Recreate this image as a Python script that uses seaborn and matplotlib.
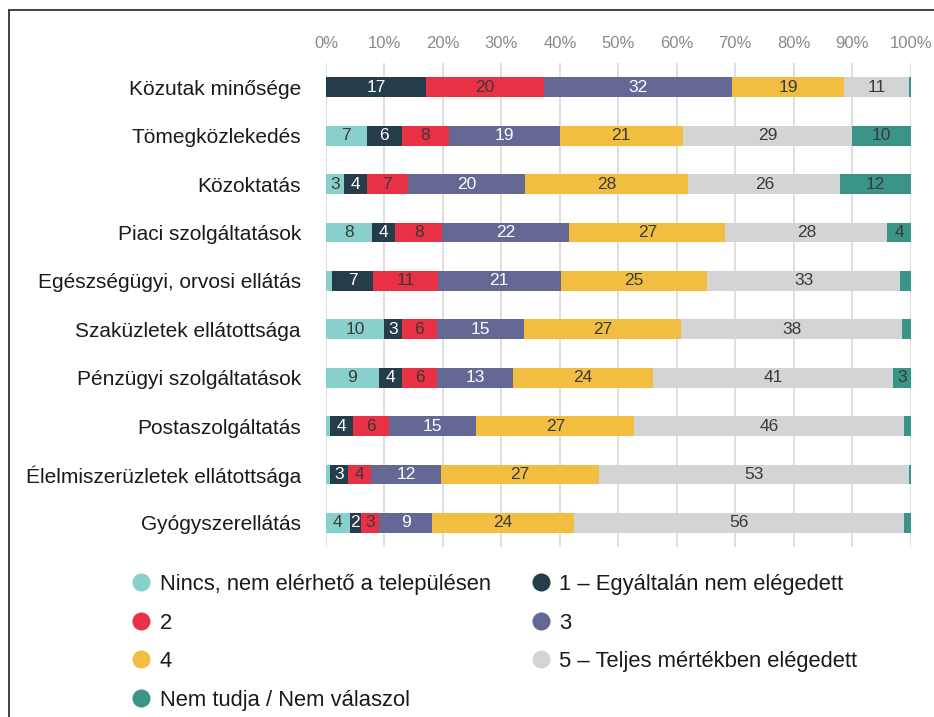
import matplotlib
matplotlib.use("Agg")
import matplotlib.pyplot as plt
from matplotlib.lines import Line2D
import seaborn as sns
import pandas as pd
import numpy as np

categories = [
    "Közutak minősége",
    "Tömegközlekedés",
    "Közoktatás",
    "Piaci szolgáltatások",
    "Egészségügyi, orvosi ellátás",
    "Szaküzletek ellátottsága",
    "Pénzügyi szolgáltatások",
    "Postaszolgáltatás",
    "Élelmiszerüzletek ellátottsága",
    "Gyógyszerellátás",
]

series = [
    "Nincs, nem elérhető a településen",
    "1 – Egyáltalán nem elégedett",
    "2",
    "3",
    "4",
    "5 – Teljes mértékben elégedett",
    "Nem tudja / Nem válaszol",
]

nincs = [0, 7, 3, 8, 1.1, 10, 9, 0.7, 0.7, 4]
egyaltalan = [17, 6, 4, 4, 7, 3, 4, 4, 3, 2]
ketto = [20, 8, 7, 8, 11, 6, 6, 6, 4, 3]
harom = [32, 19, 20, 22, 21, 15, 13, 15, 12, 9]
negy = [19, 21, 28, 27, 25, 27, 24, 27, 27, 24]
teljes = [11, 29, 26, 28, 33, 38, 41, 46, 53, 56]
nem_tudja = [0.3, 10, 12, 4, 1.8, 1.4, 3, 1.2, 0.3, 1.2]

colors = ["#88D0CB", "#253C4A", "#E83144", "#656895", "#F2BE42", "#D3D4D6", "#3A9488"]
text_colors = ["#3a3a3a", "white", "#3a3a3a", "white", "#3a3a3a", "#3a3a3a", "#3a3a3a"]

df = pd.DataFrame(
    np.array([nincs, egyaltalan, ketto, harom, negy, teljes, nem_tudja]).T,
    index=categories, columns=series,
)
shares = df.div(df.sum(axis=1), axis=0) * 100

sns.set_theme(style="white")
plt.rcParams["font.family"] = ["Liberation Sans", "DejaVu Sans"]

fig = plt.figure(figsize=(9.34, 7.17), dpi=100)
ax = fig.add_axes([0.349, 0.237, 0.626, 0.675])

left = np.zeros(len(categories))
for i, s in enumerate(series):
    sns.barplot(x=shares[s].values, y=categories, left=left, color=colors[i],
                orient="h", width=0.41, ax=ax, linewidth=0, saturation=1)
    for j, cat in enumerate(categories):
        v = df.loc[cat, s]
        if v >= 2:
            ax.text(left[j] + shares.loc[cat, s] / 2, j, f"{v:.0f}",
                    ha="center", va="center", fontsize=12.5, color=text_colors[i])
    left = left + shares[s].values

ax.set_xlim(0, 100)
ax.set_ylim(9.5, -0.5)
ax.set_xticks(range(0, 101, 10))
ax.set_xticklabels([f"{t}%" for t in range(0, 101, 10)])
ax.xaxis.tick_top()
ax.tick_params(axis="x", length=0, pad=9, labelsize=12, labelcolor="#8a8a8a")
ax.tick_params(axis="y", length=0, pad=18, labelsize=15, labelcolor="#1a1a1a")
ax.grid(axis="x", color="#d9d9d9", linewidth=1.2)
ax.set_axisbelow(True)
for sp in ax.spines.values():
    sp.set_visible(False)
ax.set_xlabel("")
ax.set_ylabel("")

# legend in row order
order = [0, 2, 4, 6, 1, 3, 5]
handles = [Line2D([], [], marker="o", linestyle="", markersize=13,
                  markerfacecolor=colors[k], markeredgewidth=0) for k in order]
fig.legend(handles, [series[k] for k in order], ncol=2, frameon=False,
           loc="upper left", bbox_to_anchor=(0.118, 0.227), fontsize=15.8,
           handlelength=1.0, handletextpad=0.35, columnspacing=1.78,
           labelspacing=0.8, labelcolor="#1a1a1a")

# frame lines on left and top
fig.add_artist(Line2D([9 / 934, 9 / 934], [0, 1 - 10 / 717], transform=fig.transFigure,
                      color="#222222", linewidth=1.2))
fig.add_artist(Line2D([9 / 934, 1], [1 - 10 / 717, 1 - 10 / 717], transform=fig.transFigure,
                      color="#222222", linewidth=1.2))

fig.savefig("out.png", dpi=100)
